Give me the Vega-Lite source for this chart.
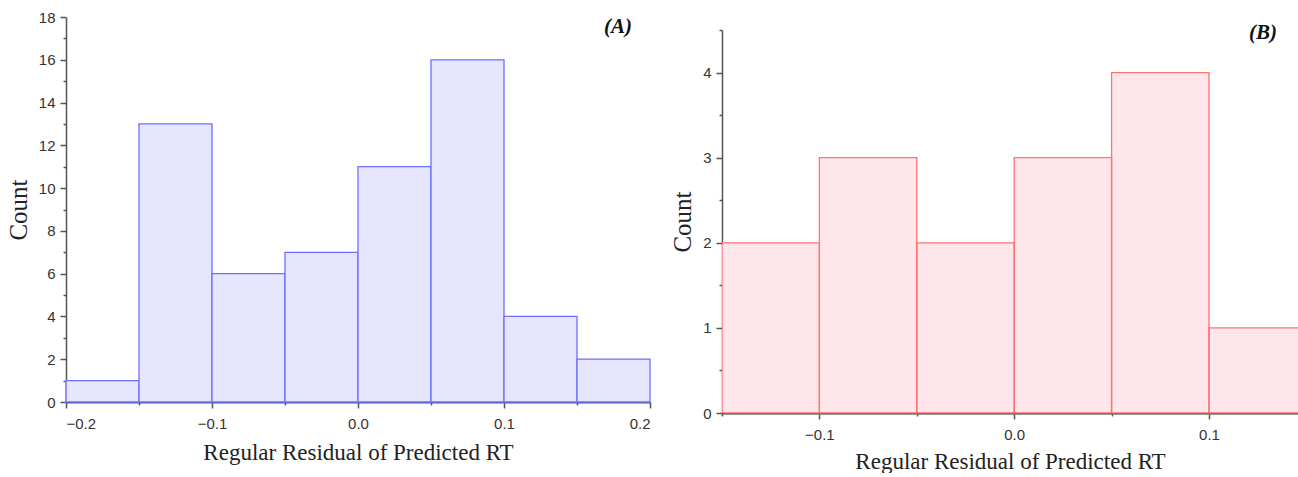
{
  "$schema": "https://vega.github.io/schema/vega-lite/v6.json",
  "background": "white",
  "padding": {"left": 6, "top": 10, "right": 0, "bottom": 0},
  "spacing": 19,
  "hconcat": [
    {
      "width": 584,
      "height": 385,
      "title": {"text": "(A)", "anchor": "end", "frame": "group", "offset": -27, "dx": -18, "font": "Liberation Serif", "fontSize": 21, "fontStyle": "italic", "fontWeight": "bold", "color": "#111"},
      "data": {"values": [
        {"start": -0.2, "end": -0.15, "count": 1},
        {"start": -0.15, "end": -0.1, "count": 13},
        {"start": -0.1, "end": -0.05, "count": 6},
        {"start": -0.05, "end": 0, "count": 7},
        {"start": 0, "end": 0.05, "count": 11},
        {"start": 0.05, "end": 0.1, "count": 16},
        {"start": 0.1, "end": 0.15, "count": 4},
        {"start": 0.15, "end": 0.2, "count": 2}
      ]},
      "mark": {"type": "bar", "fill": "#e6e6ff", "stroke": "#6e6eff", "strokeWidth": 1.3},
      "encoding": {
        "x": {
          "field": "start", "type": "quantitative",
          "scale": {"domain": [-0.2, 0.2], "nice": false, "zero": false},
          "title": "Regular Residual of Predicted RT",
          "axis": {
            "values": [-0.2, -0.15, -0.1, -0.05, 0, 0.05, 0.1, 0.15, 0.2],
            "labelExpr": "abs(round(datum.value*100)) % 10 == 0 ? format(datum.value, '.1f') : ''",
            "tickSize": {"condition": {"test": "abs(round(datum.value*100)) % 10 == 0", "value": 6}, "value": 3},
            "domainWidth": 2
          }
        },
        "x2": {"field": "end"},
        "y": {
          "field": "count", "type": "quantitative",
          "scale": {"domain": [0, 18], "nice": false},
          "title": "Count",
          "axis": {
            "values": [0,1,2,3,4,5,6,7,8,9,10,11,12,13,14,15,16,17,18],
            "labelExpr": "datum.value % 2 == 0 ? format(datum.value, 'd') : ''",
            "tickSize": {"condition": {"test": "datum.value % 2 == 0", "value": 6}, "value": 3}
          }
        },
        "y2": {"datum": 0}
      }
    },
    {
      "width": 576,
      "height": 396,
      "title": {"text": "(B)", "anchor": "end", "frame": "group", "offset": -26, "dx": -21, "font": "Liberation Serif", "fontSize": 21, "fontStyle": "italic", "fontWeight": "bold", "color": "#111"},
      "data": {"values": [
        {"start": -0.15, "end": -0.1, "count": 2},
        {"start": -0.1, "end": -0.05, "count": 3},
        {"start": -0.05, "end": 0, "count": 2},
        {"start": 0, "end": 0.05, "count": 3},
        {"start": 0.05, "end": 0.1, "count": 4},
        {"start": 0.1, "end": 0.15, "count": 1}
      ]},
      "layer": [
        {
          "mark": {"type": "bar", "fill": "#ffe6ea", "strokeWidth": 0, "clip": true},
          "encoding": {
            "x": {
              "field": "start", "type": "quantitative",
              "scale": {"domain": [-0.15, 0.1457], "nice": false, "zero": false},
              "title": "Regular Residual of Predicted RT",
              "axis": {
                "values": [-0.15, -0.1, -0.05, 0, 0.05, 0.1],
                "labelExpr": "abs(round(datum.value*100)) % 10 == 0 ? format(datum.value, '.1f') : ''",
                "tickSize": {"condition": {"test": "abs(round(datum.value*100)) % 10 == 0", "value": 6}, "value": 3},
                "domainWidth": 2.5,
                "domainColor": "#777",
                "titlePadding": 8
              }
            },
            "x2": {"field": "end"},
            "y": {
              "field": "count", "type": "quantitative",
              "scale": {"domain": [0, 4.5], "nice": false, "range": [396, 13]},
              "title": "Count",
              "axis": {
                "values": [0, 0.5, 1, 1.5, 2, 2.5, 3, 3.5, 4, 4.5],
                "labelExpr": "datum.value % 1 == 0 ? format(datum.value, 'd') : ''",
                "tickSize": {"condition": {"test": "datum.value % 1 == 0", "value": 6}, "value": 3}
              }
            },
            "y2": {"datum": 0}
          }
        },
        {
          "mark": {"type": "bar", "filled": false, "stroke": "#ff7373", "strokeWidth": 1.3, "clip": true},
          "encoding": {
            "x": {"field": "start", "type": "quantitative"},
            "x2": {"field": "end"},
            "y": {"field": "count", "type": "quantitative"},
            "y2": {"datum": 0}
          }
        }
      ]
    }
  ],
  "config": {
    "view": {"stroke": null},
    "axis": {
      "grid": false,
      "labelFont": "Liberation Sans",
      "labelFontSize": 15,
      "labelColor": "#333",
      "titleFont": "Liberation Serif",
      "titleFontWeight": "normal",
      "titleColor": "#222",
      "domainColor": "#555",
      "tickColor": "#555",
      "tickWidth": 1.5,
      "zindex": 1
    },
    "axisX": {"titleFontSize": 23, "labelPadding": 8, "titlePadding": 10},
    "axisY": {"titleFontSize": 25, "labelPadding": 5, "titlePadding": 7, "domainWidth": 1.5}
  }
}
